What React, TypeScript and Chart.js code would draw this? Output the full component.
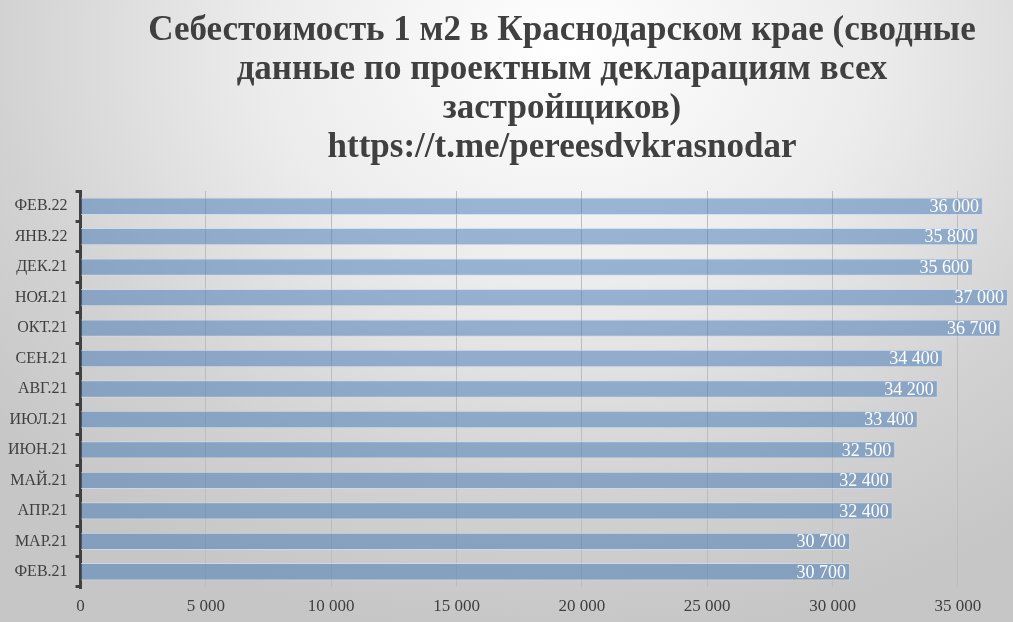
import React, { useEffect, useRef } from 'react';
import { Chart, registerables } from 'chart.js';

Chart.register(...registerables);

const titleLines = [
  'Себестоимость 1 м2 в Краснодарском крае (сводные',
  'данные по проектным декларациям всех',
  'застройщиков)',
  'https://t.me/pereesdvkrasnodar',
];

const months = [
  'ФЕВ.21', 'МАР.21', 'АПР.21', 'МАЙ.21', 'ИЮН.21', 'ИЮЛ.21', 'АВГ.21',
  'СЕН.21', 'ОКТ.21', 'НОЯ.21', 'ДЕК.21', 'ЯНВ.22', 'ФЕВ.22',
];

const costPerM2 = [
  30700, 30700, 32400, 32400, 32500, 33400, 34200,
  34400, 36700, 37000, 35600, 35800, 36000,
];

const xTicks = [0, 5000, 10000, 15000, 20000, 25000, 30000, 35000];

const SERIF = '"Liberation Serif", "DejaVu Serif", serif';
const TEXT = '#404040';

// 36000 -> "36 000"
const fmt = (v: number) => String(v).replace(/\B(?=(\d{3})+(?!\d))/g, ' ');

const titlePlugin = {
  id: 'centerTitle',
  afterDraw(chart: Chart) {
    const ctx = chart.ctx;
    ctx.save();
    ctx.fillStyle = TEXT;
    ctx.font = `bold 35px ${SERIF}`;
    ctx.textAlign = 'center';
    ctx.textBaseline = 'middle';
    titleLines.forEach((line, i) => {
      ctx.fillText(line, 562, 31 + i * 39);
    });
    ctx.restore();
  },
};

const valueLabels = {
  id: 'valueLabels',
  afterDatasetsDraw(chart: Chart) {
    const ctx = chart.ctx;
    const meta = chart.getDatasetMeta(0);
    ctx.save();
    ctx.fillStyle = '#ffffff';
    ctx.font = `18px ${SERIF}`;
    ctx.textAlign = 'right';
    ctx.textBaseline = 'middle';
    meta.data.forEach((bar: any, i: number) => {
      ctx.fillText(fmt(costPerM2[i]), bar.x - 4, bar.y + 1);
    });
    ctx.restore();
  },
};

const CostChart: React.FC = () => {
  const canvasRef = useRef<HTMLCanvasElement | null>(null);

  useEffect(() => {
    document.body.style.margin = '0';
    if (!canvasRef.current) return;
    const ctx = canvasRef.current.getContext('2d');
    if (!ctx) return;

    const chart = new Chart(ctx, {
      type: 'bar',
      data: {
        labels: months,
        datasets: [
          {
            data: costPerM2,
            backgroundColor: 'rgba(65, 120, 180, 0.5)',
            borderColor: 'rgba(205, 218, 236, 0.8)',
            borderWidth: 1,
            categoryPercentage: 1,
            barPercentage: 0.57,
          },
        ],
      },
      options: {
        indexAxis: 'y',
        animation: false,
        responsive: true,
        maintainAspectRatio: false,
        layout: { padding: { top: 191, right: 0, left: 0, bottom: 0 } },
        plugins: {
          legend: { display: false },
          tooltip: { enabled: false },
          title: { display: false },
        },
        scales: {
          x: {
            min: 0,
            max: 37200,
            afterBuildTicks: (scale: any) => {
              scale.ticks = xTicks.map(v => ({ value: v }));
            },
            afterFit: (scale: any) => {
              scale.height = 35;
            },
            ticks: {
              color: TEXT,
              font: { family: SERIF, size: 17 },
              padding: 9,
              callback: (v: any) => fmt(Number(v)),
            },
            grid: { color: '#bdbdbd', lineWidth: 1, drawTicks: false },
            border: { display: false },
          },
          y: {
            reverse: true,
            ticks: {
              color: TEXT,
              font: { family: SERIF, size: 16 },
              padding: 8,
            },
            grid: {
              drawOnChartArea: false,
              drawTicks: true,
              tickLength: 5,
              color: TEXT,
              lineWidth: 3,
              offset: true,
            },
            border: { display: true, color: TEXT, width: 3 },
          },
        },
      },
      plugins: [titlePlugin, valueLabels],
    });

    return () => {
      chart.destroy();
    };
  }, []);

  return (
    <div
      style={{
        width: '1013px',
        height: '622px',
        position: 'relative',
        background:
          'radial-gradient(ellipse 75% 95% at 56% 8%, #ffffff 0%, #ececec 40%, #d2d2d2 75%, #c6c6c6 100%)',
      }}
    >
      <canvas ref={canvasRef} />
    </div>
  );
};

export default function App() {
  return <CostChart />;
}
